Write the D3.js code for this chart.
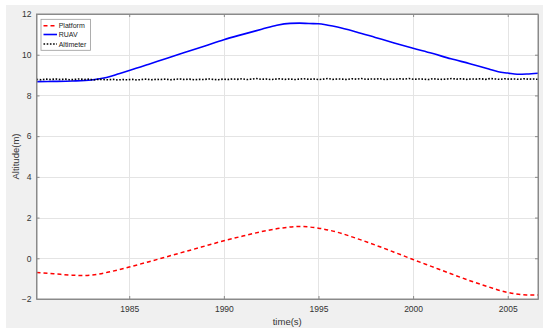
<!DOCTYPE html>
<html><head><meta charset="utf-8">
<script src="https://cdn.jsdelivr.net/npm/d3@7"></script>
<style>body{margin:0;background:#fff}svg{display:block;font-family:Arial,"Liberation Sans",sans-serif}</style>
</head><body><svg id="c" width="550" height="333"></svg>
<script>
const xTicks=[1985,1990,1995,2000,2005];
const yTicks=[-2,0,2,4,6,8,10,12];
const seriesNames=["Platform","RUAV","Altimeter"];
const platformT=[1980.1,1981,1982,1982.6,1983,1984,1985,1986,1987,1988,1989,1990,1991,1992,1993,1994,1995,1996,1997,1998,1999,2000,2001,2002,2003,2004,2005,2006,2006.6];
const platformV=[-0.70,-0.76,-0.83,-0.85,-0.83,-0.66,-0.43,-0.18,0.08,0.34,0.60,0.86,1.09,1.31,1.48,1.56,1.48,1.28,0.98,0.65,0.30,-0.06,-0.41,-0.76,-1.10,-1.41,-1.68,-1.80,-1.80];
const ruavT=[1980.1,1981,1982,1983,1983.8,1984.5,1985,1986,1987,1988,1989,1990,1991,1992,1992.8,1993.5,1994,1994.5,1995,1995.5,1996,1997,1998,1999,2000,2001,2002,2003,2004,2004.5,2005,2005.5,2006,2006.6];
const ruavV=[8.68,8.69,8.71,8.76,8.88,9.08,9.22,9.52,9.83,10.13,10.43,10.74,11.00,11.25,11.45,11.54,11.55,11.53,11.52,11.45,11.36,11.12,10.85,10.58,10.32,10.07,9.80,9.56,9.30,9.16,9.10,9.04,9.05,9.09];
const altStart=1980.1, altEnd=2006.6;
const altV=[8.79,8.77,8.80,8.78,8.81,8.78,8.80,8.77,8.79,8.81,8.78,8.80,8.76,8.79,8.78,8.77,8.79,8.76,8.78,8.77,8.79,8.76,8.78,8.80,8.77,8.79,8.78,8.80,8.77,8.79,8.81,8.78,8.80,8.77,8.79,8.78,8.81,8.79,8.77,8.80,8.78,8.81,8.79,8.82,8.78,8.80,8.83,8.79,8.81,8.78,8.80,8.82,8.79,8.81,8.78,8.80,8.82,8.79,8.81,8.78,8.80,8.83,8.79,8.81,8.80,8.78,8.82,8.80,8.83,8.79,8.81,8.80,8.82,8.78,8.81,8.79,8.82,8.80,8.83,8.79,8.81,8.80,8.78,8.82,8.80,8.79,8.81,8.83,8.80,8.82,8.79,8.81,8.80,8.82,8.79,8.83,8.81,8.79,8.82,8.80,8.81,8.79,8.82,8.80,8.81,8.79];

const svg=d3.select("#c");
svg.append("rect").attr("x",6).attr("y",5).attr("width",537).attr("height",323).attr("fill","#f0f0f0");
const L=36.5,R=538,T=14,B=299;
const x=d3.scaleLinear().domain([1980.1,2006.6]).range([L,R]);
const y=d3.scaleLinear().domain([-2,12]).range([B,T]);
svg.append("rect").attr("x",L).attr("y",T).attr("width",R-L).attr("height",B-T).attr("fill","#fff");
const grid=svg.append("g").attr("stroke","#e4e4e4").attr("stroke-width",1);
xTicks.forEach(t=>grid.append("line").attr("x1",Math.round(x(t))+0.5).attr("x2",Math.round(x(t))+0.5).attr("y1",T).attr("y2",B));
yTicks.forEach(t=>grid.append("line").attr("y1",Math.round(y(t))+0.5).attr("y2",Math.round(y(t))+0.5).attr("x1",L).attr("x2",R));

svg.append("defs").append("clipPath").attr("id","cp").append("rect").attr("x",L).attr("y",T).attr("width",R-L).attr("height",B-T);
const plot=svg.append("g").attr("clip-path","url(#cp)");
const line=d3.line().x(d=>x(d[0])).y(d=>y(d[1])).curve(d3.curveMonotoneX);
plot.append("path").datum(ruavT.map((t,i)=>[t,ruavV[i]])).attr("d",line).attr("fill","none").attr("stroke","#0000ff").attr("stroke-width",1.6);
const altStep=(altEnd-altStart)/(altV.length-1);
plot.append("path").datum(altV.map((v,i)=>[altStart+i*altStep,v])).attr("d",d3.line().x(d=>x(d[0])).y(d=>y(d[1]))).attr("fill","none").attr("stroke","#000").attr("stroke-width",1.6).attr("stroke-dasharray","1.6,1.6");
plot.append("path").datum(platformT.map((t,i)=>[t,platformV[i]])).attr("d",line).attr("fill","none").attr("stroke","#ff0000").attr("stroke-width",1.5).attr("stroke-dasharray","4,3");

const ax="#8a8a8a";
const gx=svg.append("g").attr("transform",`translate(0,${B})`).call(d3.axisBottom(x).tickValues(xTicks).tickFormat(d3.format("d")).tickSizeInner(-3).tickSizeOuter(0).tickPadding(7));
const gxt=svg.append("g").attr("transform",`translate(0,${T})`).call(d3.axisTop(x).tickValues(xTicks).tickFormat("").tickSizeInner(-3).tickSizeOuter(0));
const gy=svg.append("g").attr("transform",`translate(${L},0)`).call(d3.axisLeft(y).tickValues(yTicks).tickSizeInner(-3).tickSizeOuter(0).tickPadding(5));
const gyr=svg.append("g").attr("transform",`translate(${R},0)`).call(d3.axisRight(y).tickValues(yTicks).tickFormat("").tickSizeInner(-3).tickSizeOuter(0));
[gx,gxt,gy,gyr].forEach(g=>{g.selectAll("path").attr("stroke",ax);g.selectAll("line").attr("stroke",ax);g.selectAll("text").attr("fill","#333").attr("font-size","8.5px").attr("font-family","Arial,'Liberation Sans',sans-serif");});
svg.append("rect").attr("x",L).attr("y",T).attr("width",R-L).attr("height",B-T).attr("fill","none").attr("stroke",ax).attr("stroke-width",1);

svg.append("text").attr("x",(L+R)/2).attr("y",324.5).attr("text-anchor","middle").attr("font-size","9.5px").attr("fill","#333").text("time(s)");
svg.append("text").attr("transform",`translate(19,${(T+B)/2}) rotate(-90)`).attr("text-anchor","middle").attr("font-size","9.5px").attr("fill","#333").text("Altitude(m)");

const lg=svg.append("g");
lg.append("rect").attr("x",41).attr("y",19.3).attr("width",49.5).attr("height",31).attr("fill","#fff").attr("stroke","#9a9a9a").attr("stroke-width",0.8);
const styles=[{c:"#ff0000",d:"4,3"},{c:"#0000ff",d:null},{c:"#000",d:"1.6,1.6"}];
const rowsY=[25.7,34.5,44];
seriesNames.forEach((n,i)=>{
  lg.append("line").attr("x1",43.5).attr("x2",57).attr("y1",rowsY[i]).attr("y2",rowsY[i]).attr("stroke",styles[i].c).attr("stroke-width",1.6).attr("stroke-dasharray",styles[i].d);
  lg.append("text").attr("x",58.7).attr("y",rowsY[i]+2.5).attr("font-size","7px").attr("fill","#222").text(n);
});
</script></body></html>
